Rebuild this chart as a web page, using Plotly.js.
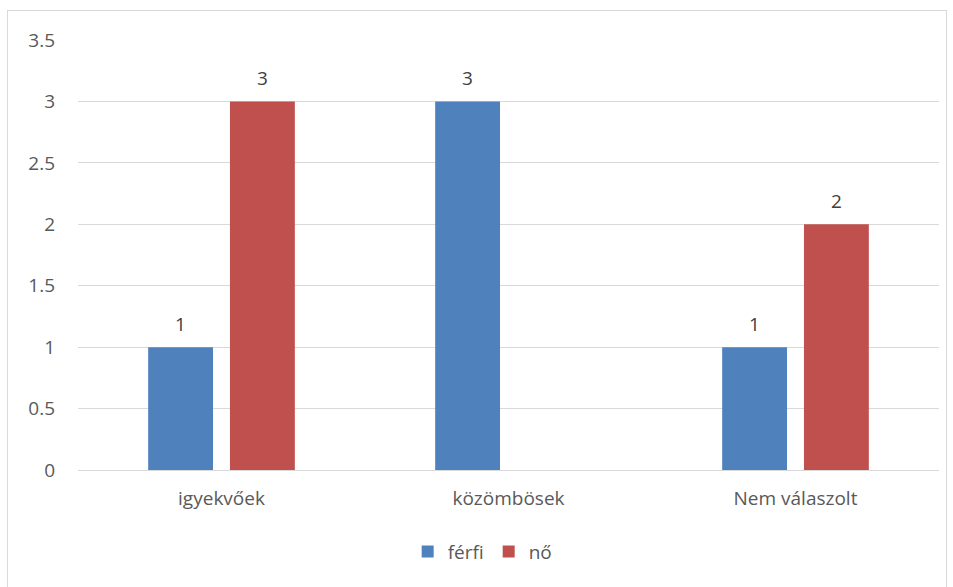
<!DOCTYPE html>
<html>
<head>
<meta charset="utf-8">
<script src="https://cdn.plot.ly/plotly-3.0.1.min.js"></script>
<style>
html,body{margin:0;padding:0;background:#fff;}
#wrap{position:relative;width:953px;height:587px;}
#frame{position:absolute;left:7px;top:10px;width:940px;height:580px;border:1px solid #D9D9D9;box-sizing:border-box;pointer-events:none;}
#chart{position:absolute;left:0;top:0;width:953px;height:587px;}
</style>
</head>
<body>
<div id="wrap"><div id="chart"></div><div id="frame"></div></div>
<script>
const categories = ["igyekvőek", "közömbösek", "Nem válaszolt"];
const ferfiValues = [1, 3, 1];
const noValues = [3, null, 2];
const seriesNames = ["férfi", "nő"];
const yTicks = [0, 0.5, 1, 1.5, 2, 2.5, 3, 3.5];
const yTickLabels = ["0", "0.5", "1", "1.5", "2", "2.5", "3", "3.5"];

const fam = "Open Sans, Liberation Sans, sans-serif";
const font = {family: fam, size: 19, color: "#595959"};

const traces = [
  {type: "bar", name: seriesNames[0], x: categories, y: ferfiValues,
   marker: {color: "#4F81BD"}, hoverinfo: "x+y"},
  {type: "bar", name: seriesNames[1], x: categories, y: noValues,
   marker: {color: "#C0504D"}, hoverinfo: "x+y"}
];

const annotations = [];
[ferfiValues, noValues].forEach((vals, si) => {
  vals.forEach((v, i) => {
    if (v == null) return;
    annotations.push({x: categories[i], y: v, xref: "x", yref: "y",
      text: String(v), showarrow: false, yanchor: "bottom",
      xshift: si === 0 ? -41 : 41, yshift: 8,
      font: {family: fam, size: 19, color: "#404040"}});
  });
});

const layout = {
  width: 953, height: 587,
  margin: {l: 78, r: 14, t: 40, b: 117},
  paper_bgcolor: "rgba(0,0,0,0)", plot_bgcolor: "rgba(0,0,0,0)",
  font: font,
  barmode: "group", bargap: 0.43, bargroupgap: 0.207,
  showlegend: true,
  legend: {orientation: "h", x: 0.47, xanchor: "center", y: -0.19, yanchor: "middle",
           font: {family: fam, size: 19, color: "#595959"}, itemwidth: 30,
           traceorder: "normal"},
  annotations: annotations,
  xaxis: {type: "category", showgrid: false, showline: false, ticks: "",
          tickfont: font, ticklabelstandoff: 15, zeroline: false},
  yaxis: {range: [0, 3.5], tickvals: yTicks, ticktext: yTickLabels,
          showgrid: true, gridcolor: "#D9D9D9", gridwidth: 1,
          zeroline: true, zerolinecolor: "#D9D9D9", zerolinewidth: 1,
          showline: false, ticks: "", tickfont: font, ticklabelstandoff: 22}
};

Plotly.newPlot("chart", traces, layout, {displayModeBar: false, staticPlot: true});
</script>
</body>
</html>
